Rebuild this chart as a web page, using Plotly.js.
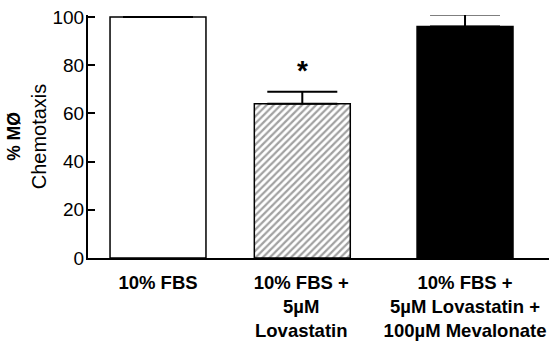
<!DOCTYPE html>
<html>
<head>
<meta charset="utf-8">
<script src="https://cdn.plot.ly/plotly-3.0.1.min.js"></script>
<style>html,body{margin:0;padding:0;background:#fff;}#chart{width:549px;height:352px;}</style>
</head>
<body>
<div id="chart"></div>
<script>
// Data
var categories = ["10% FBS", "10% FBS + 5\u00b5M Lovastatin", "10% FBS + 5\u00b5M Lovastatin + 100\u00b5M Mevalonate"];
var tickLabels = [
  "10% FBS",
  "10% FBS +\u00a0\u00a0\u00a0\u00a0<br>5\u00b5M\u00a0\u00a0\u00a0\u00a0<br>Lovastatin\u00a0\u00a0\u00a0\u00a0",
  "10% FBS +<br>5\u00b5M Lovastatin +<br>100\u00b5M Mevalonate"
];
var chemotaxis = [100, 64, 96];
var errUpper = [0, 5, 5];
var significance = ["", "*", ""];

var sans = "Liberation Sans, Arial, Helvetica, sans-serif";
var w = 0.625;

var trace = {
  type: "bar",
  x: categories,
  y: chemotaxis,
  width: w,
  offset: [-w/2, -w/2 - 0.06, -w/2],
  cliponaxis: false,
  marker: {
    color: ["white", "white", "black"],
    line: {color: "black", width: 1.5},
    pattern: {shape: ["", "/", ""], fgcolor: "black", size: 5, solidity: 0.45, fillmode: "overlay"}
  },
  error_y: {
    type: "data", symmetric: false,
    array: errUpper, arrayminus: errUpper.map(function(){return 0;}),
    color: "black", thickness: 2, width: 35
  },
  hoverinfo: "skip"
};

var annotations = [];
significance.forEach(function(s, i){
  if (s) annotations.push({
    x: categories[i], y: chemotaxis[i] + errUpper[i], xref: "x", yref: "y",
    text: s, showarrow: false, xshift: -9, yshift: 4, yanchor: "bottom",
    font: {family: "Arial, sans-serif", size: 28, color: "black", weight: "bold"}
  });
});

var layout = {
  width: 549, height: 352,
  margin: {l: 88, r: 0, t: 15, b: 94},
  paper_bgcolor: "white", plot_bgcolor: "white",
  showlegend: false,
  xaxis: {
    type: "category",
    range: [-0.456, 2.547],
    tickvals: categories, ticktext: tickLabels,
    tickangle: 0,
    showline: true, linecolor: "black", linewidth: 2,
    ticks: "", showgrid: false, zeroline: false,
    tickfont: {family: sans, size: 18.5, color: "black", weight: "bold"},
    ticklabelstandoff: 7
  },
  yaxis: {
    range: [0, 100.8], dtick: 20, tick0: 0,
    showline: true, linecolor: "black", linewidth: 2,
    ticks: "inside", ticklen: 7, tickwidth: 2, tickcolor: "black",
    showgrid: false, zeroline: false,
    tickfont: {family: sans, size: 19, color: "black"},
    ticklabelstandoff: -2,
    title: {text: "<span style='font-size:17.5px'><b>% MØ</b></span><br>Chemotaxis", font: {family: sans, size: 20, color: "black"}, standoff: 0}
  },
  annotations: annotations
};

Plotly.newPlot("chart", [trace], layout, {staticPlot: true, displayModeBar: false});
</script>
</body>
</html>
